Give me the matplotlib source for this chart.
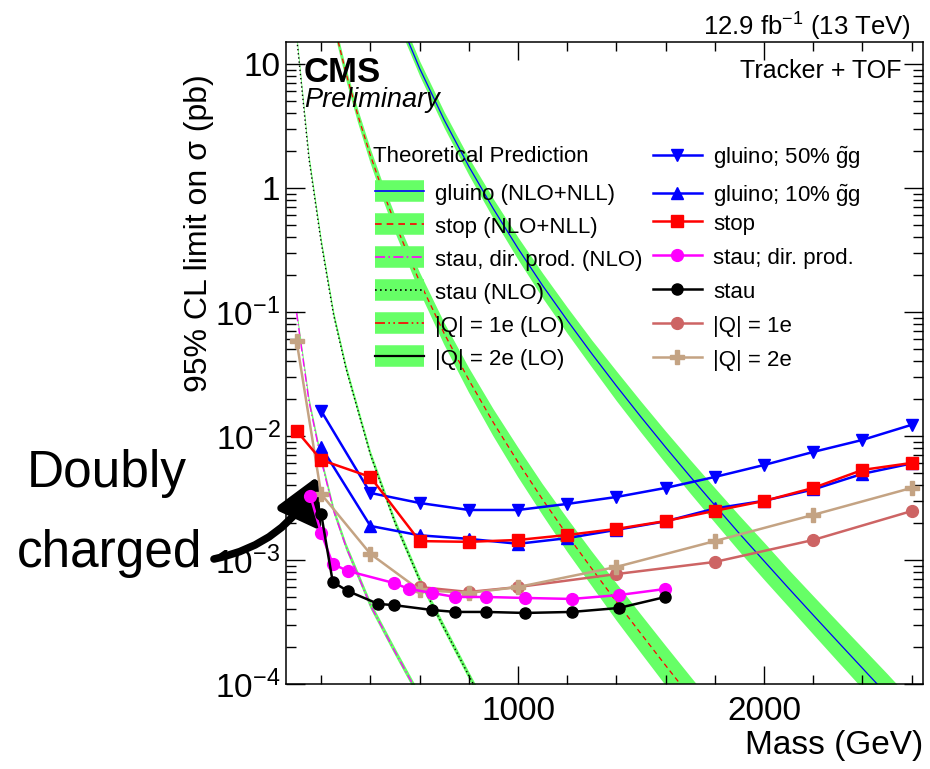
import matplotlib
matplotlib.use("Agg")
import matplotlib.pyplot as plt
import numpy as np
from matplotlib.lines import Line2D
from matplotlib.ticker import FixedLocator, FixedFormatter, LogLocator, NullFormatter, MultipleLocator

plt.rcParams["font.family"] = ["Liberation Sans", "DejaVu Sans"]
plt.rcParams["mathtext.fontset"] = "custom"
plt.rcParams["mathtext.rm"] = "Liberation Sans"
plt.rcParams["mathtext.it"] = "Liberation Sans:italic"
plt.rcParams["mathtext.bf"] = "Liberation Sans:bold"
plt.rcParams["mathtext.sf"] = "Liberation Sans"

# ---------------- observed 95% CL upper limits (pb) vs mass (GeV) ----------------
gluino50_mass = [200, 400, 600, 800, 1000, 1200, 1400, 1600, 1800, 2000, 2200, 2400, 2600]
gluino50_limit = [0.0159, 0.00347, 0.00288, 0.00253, 0.00253, 0.00283, 0.00322, 0.00381,
                  0.00467, 0.00583, 0.00743, 0.00929, 0.0123]

gluino10_mass = [200, 400, 600, 800, 1000, 1200, 1400, 1600, 1800, 2000, 2200, 2400, 2600]
gluino10_limit = [0.00815, 0.00188, 0.00158, 0.00148, 0.00135, 0.00150, 0.00175, 0.00205,
                  0.00260, 0.00300, 0.00370, 0.00495, 0.00600]

stop_mass = [100, 200, 400, 600, 800, 1000, 1200, 1400, 1600, 1800, 2000, 2200, 2400, 2600]
stop_limit = [0.0110, 0.0064, 0.00467, 0.00142, 0.00140, 0.00145, 0.00159, 0.00178,
              0.00206, 0.00249, 0.00299, 0.00381, 0.00532, 0.00606]

staudir_mass = [156, 200, 247, 308, 494, 557, 651, 745, 871, 1029, 1218, 1409, 1599]
staudir_limit = [0.00328, 0.00165, 0.00093, 0.000815, 0.000653, 0.000584, 0.000542,
                 0.000503, 0.000503, 0.000494, 0.000485, 0.000521, 0.000584]

stau_mass = [200, 247, 308, 432, 494, 651, 745, 871, 1029, 1218, 1409, 1599]
stau_limit = [0.00235, 0.000665, 0.000562, 0.000442, 0.000433, 0.000395, 0.000381,
              0.000381, 0.000374, 0.000381, 0.000410, 0.000503]

q1_mass = [600, 800, 1000, 1400, 1800, 2200, 2600]
q1_limit = [0.000605, 0.000552, 0.000605, 0.00077, 0.000964, 0.00145, 0.00248]

q2_mass = [100, 200, 400, 600, 800, 1000, 1400, 1800, 2200, 2600]
q2_limit = [0.0583, 0.0034, 0.00112, 0.000573, 0.000542, 0.000605, 0.000879, 0.00142,
            0.00231, 0.00381]

# ---------------- theoretical cross sections (pb), band half-width in log10 ----------------
gluino_th_mass = [500, 600, 700, 800, 900, 1000, 1100, 1200, 1300, 1400, 1500, 1600, 1700,
                  1800, 1900, 2000, 2100, 2200, 2300, 2400, 2500, 2600]
gluino_th_xsec = [27.4, 9.20, 3.53, 1.49, 0.677, 0.325, 0.163, 0.0856, 0.0460, 0.0253,
                  0.0142, 0.00810, 0.00470, 0.00276, 0.00163, 0.000981, 0.000591, 0.000359,
                  0.000219, 0.000134, 8.2e-5, 5.0e-5]
gluino_th_unc = [0.06, 0.06, 0.065, 0.07, 0.08, 0.09, 0.10, 0.105, 0.11, 0.12, 0.125,
                 0.13, 0.135, 0.14, 0.145, 0.15, 0.15, 0.155, 0.16, 0.165, 0.17, 0.17]

stop_th_mass = [200, 250, 300, 350, 400, 450, 500, 600, 700, 800, 900, 1000, 1100, 1200,
                1300, 1400, 1500, 1600, 1700, 1800]
stop_th_xsec = [64.5, 21.6, 8.52, 3.79, 1.83, 0.948, 0.518, 0.175, 0.0670, 0.0283, 0.0128,
                0.00615, 0.00307, 0.00159, 0.000850, 0.000460, 0.000254, 0.000141, 7.9e-5,
                4.5e-5]
stop_th_unc = [0.05, 0.05, 0.05, 0.055, 0.06, 0.065, 0.07, 0.08, 0.09, 0.10, 0.11, 0.12,
               0.125, 0.135, 0.14, 0.15, 0.155, 0.16, 0.165, 0.165]

stau_th_mass = [100, 150, 200, 250, 300, 400, 500, 600, 700, 800, 900]
stau_th_xsec = [16.6, 1.74, 0.363, 0.0955, 0.0355, 0.00708, 0.00200, 0.00069, 0.000282,
                0.000117, 5.0e-5]
stau_th_unc = [0.03, 0.03, 0.03, 0.03, 0.03, 0.03, 0.03, 0.03, 0.03, 0.03, 0.03]

staudir_th_mass = [100, 150, 200, 250, 300, 400, 500, 600, 700]
staudir_th_xsec = [0.098, 0.0192, 0.0064, 0.00252, 0.00129, 0.000432, 0.000182, 7.9e-5, 4.0e-5]
staudir_th_unc = [0.03, 0.03, 0.03, 0.03, 0.03, 0.03, 0.03, 0.03, 0.03]

# ---------------- axis ticks and labels ----------------
ytick_values = [1e-4, 1e-3, 1e-2, 1e-1, 1, 10]
ytick_labels = [r"$10^{-4}$", r"$10^{-3}$", r"$10^{-2}$", r"$10^{-1}$", "1", "10"]
xtick_values = [1000, 2000]
xtick_labels = ["1000", "2000"]

theory_labels = ["gluino (NLO+NLL)", "stop (NLO+NLL)", "stau, dir. prod. (NLO)",
                 "stau (NLO)", "|Q| = 1e (LO)", "|Q| = 2e (LO)"]
limit_labels = [r"gluino; 50% $\tilde{\mathrm{g}}$g", r"gluino; 10% $\tilde{\mathrm{g}}$g",
                "stop", "stau; dir. prod.", "stau", "|Q| = 1e", "|Q| = 2e"]

BAND = "#66FF66"
W, H = 930, 769


def fx(px):
    return px / W


def fy(py):
    return 1 - py / H


fig = plt.figure(figsize=(W / 100, H / 100), dpi=100)
ax = fig.add_axes([fx(286), fy(684), (923 - 286) / W, (684 - 42) / H])
ax.set_yscale("log")
ax.set_xlim(57, 2646)
ax.set_ylim(1e-4, 15)


def ax_x(px):
    return (px - 286) / (923 - 286)


def ax_y(py):
    return (684 - py) / (684 - 42)


def draw_theory(mass, xsec, unc, color, ls, lw):
    m = np.asarray(mass, float)
    s = np.asarray(xsec, float)
    u = np.asarray(unc, float)
    ax.fill_between(m, s / 10 ** u, s * 10 ** u, color=BAND, lw=0, zorder=1)
    ax.plot(m, s, color=color, ls=ls, lw=lw, zorder=2)


draw_theory(gluino_th_mass, gluino_th_xsec, gluino_th_unc, "#0000FF", "-", 0.9)
draw_theory(stop_th_mass, stop_th_xsec, stop_th_unc, "#FF0000", (0, (4, 3)), 0.9)
draw_theory(stau_th_mass, stau_th_xsec, stau_th_unc, "black", (0, (1, 2)), 1.0)
draw_theory(staudir_th_mass, staudir_th_xsec, staudir_th_unc, "#FF00FF", (0, (6, 2, 1, 2)), 1.0)

lw_d = 1.8
h_q1, = ax.plot(q1_mass, q1_limit, color="#CD6464", marker="o", ms=8.5, lw=lw_d, zorder=4)
h_q2, = ax.plot(q2_mass, q2_limit, color="#C4A383", marker="P", ms=9.5, lw=lw_d, zorder=4)
h_g50, = ax.plot(gluino50_mass, gluino50_limit, color="#0000FF", marker="v", ms=9, lw=lw_d, zorder=5)
h_g10, = ax.plot(gluino10_mass, gluino10_limit, color="#0000FF", marker="^", ms=9, lw=lw_d, zorder=5)
h_stop, = ax.plot(stop_mass, stop_limit, color="#FF0000", marker="s", ms=8.5, lw=lw_d, zorder=6)
h_sdir, = ax.plot(staudir_mass, staudir_limit, color="#FF00FF", marker="o", ms=8.5, lw=lw_d, zorder=6)
h_stau, = ax.plot(stau_mass, stau_limit, color="black", marker="o", ms=8, lw=lw_d, zorder=6)

# ticks: inward on all four sides
ax.yaxis.set_major_locator(FixedLocator(ytick_values))
ax.yaxis.set_major_formatter(FixedFormatter(ytick_labels))
ax.yaxis.set_minor_locator(LogLocator(base=10, subs=np.arange(2, 10), numticks=30))
ax.yaxis.set_minor_formatter(NullFormatter())
ax.xaxis.set_major_locator(FixedLocator(xtick_values))
ax.xaxis.set_major_formatter(FixedFormatter(xtick_labels))
ax.xaxis.set_minor_locator(MultipleLocator(200))
ax.tick_params(which="both", direction="in", top=True, right=True, width=1.0, labelsize=24)
ax.tick_params(axis="y", which="major", length=14, pad=4)
ax.tick_params(axis="y", which="minor", length=7.5)
ax.tick_params(axis="x", which="major", length=13, pad=9)
ax.tick_params(axis="x", which="minor", length=6.5)
for sp in ax.spines.values():
    sp.set_linewidth(1.1)

ax.set_xlabel("Mass (GeV)", fontsize=24, loc="right")
ax.xaxis.set_label_coords(1.0, ax_y(730))
ax.set_ylabel("95% CL limit on σ (pb)", fontsize=23, loc="top")
ax.yaxis.set_label_coords(ax_x(214), ax_y(74))


# legends: green band box with the central line drawn across it
def band_handle(color, ls, lw):
    return (Line2D([], [], color=BAND, lw=15.5, solid_capstyle="butt"),
            Line2D([], [], color=color, lw=lw, ls=ls))


theory_handles = [
    band_handle("#0000FF", "-", 1.2),
    band_handle("#FF0000", (0, (4, 3)), 1.2),
    band_handle("#FF00FF", (0, (6, 2, 1, 2)), 1.2),
    band_handle("black", (0, (1, 2)), 1.2),
    band_handle("#FF0000", (0, (6, 2, 1, 2, 1, 2)), 1.2),
    band_handle("black", "-", 1.6),
]
leg_kw = dict(loc="upper left", frameon=False, fontsize=16, handlelength=2.2,
              handleheight=1.0, handletextpad=0.5, labelspacing=0.52,
              borderpad=0, borderaxespad=0)
leg1 = ax.legend(theory_handles, theory_labels,
                 bbox_to_anchor=(ax_x(375), ax_y(182)), **{**leg_kw, "labelspacing": 0.47})
ax.add_artist(leg1)

limit_handles = [h_g50, h_g10, h_stop, h_sdir, h_stau, h_q1, h_q2]
# the two gluino rows carry an accent, so they sit in their own block to keep row pitch even
leg2 = ax.legend(limit_handles[:2], limit_labels[:2],
                 bbox_to_anchor=(ax_x(653), ax_y(145)), **leg_kw)
ax.add_artist(leg2)
leg3 = ax.legend(limit_handles[2:], limit_labels[2:],
                 bbox_to_anchor=(ax_x(653), ax_y(212)), **leg_kw)

ax.text(ax_x(373), ax_y(157), "Theoretical Prediction", transform=ax.transAxes,
        fontsize=16, ha="left", va="center")

# header texts
fig.text(fx(911), fy(36), r"12.9 fb$^{-1}$ (13 TeV)", fontsize=18.5, ha="right", va="baseline")
ax.text(ax_x(902), ax_y(78), "Tracker + TOF", transform=ax.transAxes, fontsize=18,
        ha="right", va="baseline")
ax.text(ax_x(304), ax_y(82), "CMS", transform=ax.transAxes, fontsize=25,
        fontweight="bold", ha="left", va="baseline")
ax.text(ax_x(304), ax_y(107), "Preliminary", transform=ax.transAxes, fontsize=19.5,
        style="italic", ha="left", va="baseline")

# annotation pointing at the doubly charged curve
fig.text(fx(27), fy(487), "Doubly", fontsize=37, ha="left", va="baseline")
fig.text(fx(17), fy(567), "charged", fontsize=37, ha="left", va="baseline")
ax.annotate("", xy=(fx(318), fy(476)), xycoords="figure fraction",
            xytext=(fx(214), fy(559)), textcoords="figure fraction",
            arrowprops=dict(arrowstyle="-|>,head_length=1.1,head_width=0.6", lw=5.5,
                            color="black", mutation_scale=24, shrinkA=0, shrinkB=0,
                            connectionstyle="arc3,rad=0.25"),
            annotation_clip=False)

fig.savefig("out.png", dpi=100)
